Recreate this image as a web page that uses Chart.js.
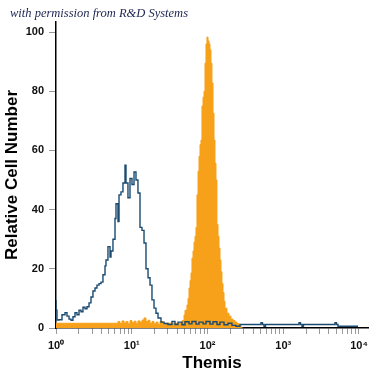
<!DOCTYPE html>
<html>
<head>
<meta charset="utf-8">
<script src="https://cdn.jsdelivr.net/npm/chart.js@4"></script>
<style>
  html, body { margin: 0; padding: 0; background: #fff; }
  #wrap { position: relative; width: 375px; height: 375px; }
  #note { position: absolute; left: 10px; top: 6px; font: italic 12.5px "Liberation Serif", "DejaVu Serif", serif; color: #1c2450; white-space: nowrap; }
</style>
</head>
<body>
<div id="wrap">
  <canvas id="c" width="375" height="375"></canvas>
  <div id="note">with permission from R&amp;D Systems</div>
</div>
<script>
// x positions are log10(fluorescence intensity); each point starts a histogram step
const blueLog = [
  0.000,0.013,0.040,0.079,0.119,0.145,0.172,0.198,0.224,0.251,
  0.277,0.304,0.330,0.356,0.383,0.409,0.436,0.462,0.488,0.515,
  0.541,0.568,0.594,0.620,0.647,0.660,0.686,0.713,0.726,0.752,
  0.779,0.792,0.818,0.832,0.858,0.884,0.911,0.924,0.950,0.977,
  1.003,1.030,1.056,1.082,1.109,1.135,1.162,1.188,1.215,1.241,
  1.267,1.294,1.320,1.347,1.386,1.426,1.478,1.531,1.571,1.611,
  1.663,1.703,1.756,1.795,1.848,1.888,1.941,1.980,2.033,2.073,
  2.125,2.165,2.218,2.271,2.323,2.376,2.429,2.706,2.726,2.746,
  2.766,3.208,3.228,3.248,3.267,3.683,3.703,3.723,3.743,3.987
];
const blueCounts = [
  9.5,6,2.7,2.8,4.5,5.2,4.0,3.0,2.6,3.8,
  5.2,4.5,6.0,5.5,7.0,6.5,7.2,8.5,10.5,12.5,
  13.5,14.5,15,15.5,18,21,23,27.5,24,26,
  30,37,42,36,45,46,49,55,49,44,
  50.5,48.5,52.7,50,45.6,34,33,28.7,20,17,
  14.5,9.5,6.7,5,3.4,2,1.5,1.2,2.2,1.2,
  2.0,1.1,2.1,1.4,2.2,1.3,2.0,1.4,2.2,1.3,
  2.1,1.2,2.0,1.1,1.6,0.9,0.6,1.2,1.8,1.2,
  0.6,1.2,1.8,1.2,0.6,1.2,1.8,1.2,0.6,0.6
];
const orangeLog = [
  0.000,
  0.818,0.845,0.871,0.898,0.924,0.950,0.977,1.003,1.030,1.056,
  1.082,1.109,1.135,1.162,1.188,1.215,1.241,1.267,1.294,1.320,
  1.347,1.373,1.413,1.439,
  1.663,1.690,1.703,1.729,1.743,1.756,1.769,1.782,1.795,1.809,
  1.822,1.835,1.848,1.861,1.875,1.888,1.901,1.914,1.927,1.941,
  1.954,1.967,1.980,1.993,2.007,2.020,2.033,2.046,2.059,2.073,
  2.086,2.099,2.112,2.125,2.139,2.152,2.165,2.178,2.191,2.205,
  2.218,2.231,2.257,2.284,2.310,2.337,2.363,2.389,2.416,2.442,
  2.469
];
const orangeCounts = [
  0.9,
  1.6,2.2,1.5,2.4,1.7,2.2,1.4,2.5,1.8,2.3,
  1.6,2.4,2.0,2.7,3.4,2.2,2.6,1.6,2.2,1.4,
  2.0,1.2,2.2,1.0,
  1.6,2.5,4.4,6,7.8,10,13.5,16,18.6,23.6,
  26,29,31,34,45,53,58,62,63.5,75,
  78,80,89.5,96,98.3,97,96,94,89.5,82.8,
  72.6,63.5,55.7,50,35,31,27,23,19,15,
  12,9,6.7,5,4,3,2.5,2,1.5,1,
  0
];
const yTickValues = [0, 20, 40, 60, 80, 100];
const xDecades = [0, 1, 2, 3, 4];
const xTitle = 'Themis';
const yTitle = 'Relative Cell Number';

const sup = ['\u2070', '\u00B9', '\u00B2', '\u00B3', '\u2074'];
const toPoints = (lx, ys) => lx.map((l, i) => ({ x: Math.pow(10, l), y: ys[i] }));

const xTickValues = [];
xDecades.forEach(d => {
  if (d < 4) { for (let k = 1; k <= 9; k++) xTickValues.push(k * Math.pow(10, d)); }
  else xTickValues.push(Math.pow(10, d));
});

new Chart(document.getElementById('c'), {
  type: 'line',
  data: {
    datasets: [
      {
        label: 'Isotype',
        data: toPoints(blueLog, blueCounts),
        stepped: 'after',
        borderColor: '#1a4a70',
        borderWidth: 1.4,
        pointRadius: 0,
        fill: false
      },
      {
        label: 'Themis',
        data: toPoints(orangeLog, orangeCounts),
        stepped: 'after',
        borderColor: '#f7a11a',
        backgroundColor: '#f7a11a',
        borderWidth: 1,
        pointRadius: 0,
        fill: 'origin'
      }
    ]
  },
  options: {
    responsive: false,
    animation: false,
    devicePixelRatio: 1,
    layout: { padding: { top: 22, right: 7, left: 0, bottom: 0 } },
    plugins: { legend: { display: false }, tooltip: { enabled: false } },
    scales: {
      x: {
        type: 'logarithmic',
        min: 1,
        max: 13150,
        afterBuildTicks: s => { s.ticks = xTickValues.map(v => ({ value: v })); },
        afterFit: s => { s.height = 47; s.paddingLeft = 0; s.paddingRight = 0; },
        ticks: {
          autoSkip: false, maxRotation: 0, minRotation: 0, padding: 5,
          color: '#111',
          font: { family: '"Liberation Sans", Arial, sans-serif', size: 11, weight: 'bold' },
          callback: v => {
            const l = Math.log10(v);
            const r = Math.round(l);
            return Math.abs(l - r) < 1e-9 ? '10' + sup[r] : '';
          }
        },
        grid: { display: true, drawOnChartArea: false, drawTicks: true, tickLength: 6, color: '#999', tickColor: '#999' },
        border: { display: true, color: '#000', width: 1.5 },
        title: {
          display: true, text: xTitle, color: '#000',
          padding: { top: 0, bottom: 1 },
          font: { family: '"Liberation Sans", Arial, sans-serif', size: 17, weight: 'bold' }
        }
      },
      y: {
        type: 'linear',
        min: 0,
        max: 103.4,
        afterBuildTicks: s => { s.ticks = yTickValues.map(v => ({ value: v })); },
        afterFit: s => { s.width = 56; s.paddingTop = 0; s.paddingBottom = 0; },
        ticks: {
          padding: 5, color: '#111',
          font: { family: '"Liberation Sans", Arial, sans-serif', size: 11, weight: 'bold' }
        },
        grid: { display: true, drawOnChartArea: false, drawTicks: true, tickLength: 7, color: '#999', tickColor: '#999' },
        border: { display: true, color: '#000', width: 1.5 },
        title: {
          display: true, text: yTitle, color: '#000',
          padding: { top: 2, bottom: 0 },
          font: { family: '"Liberation Sans", Arial, sans-serif', size: 17, weight: 'bold' }
        }
      }
    }
  }
});
</script>
</body>
</html>
